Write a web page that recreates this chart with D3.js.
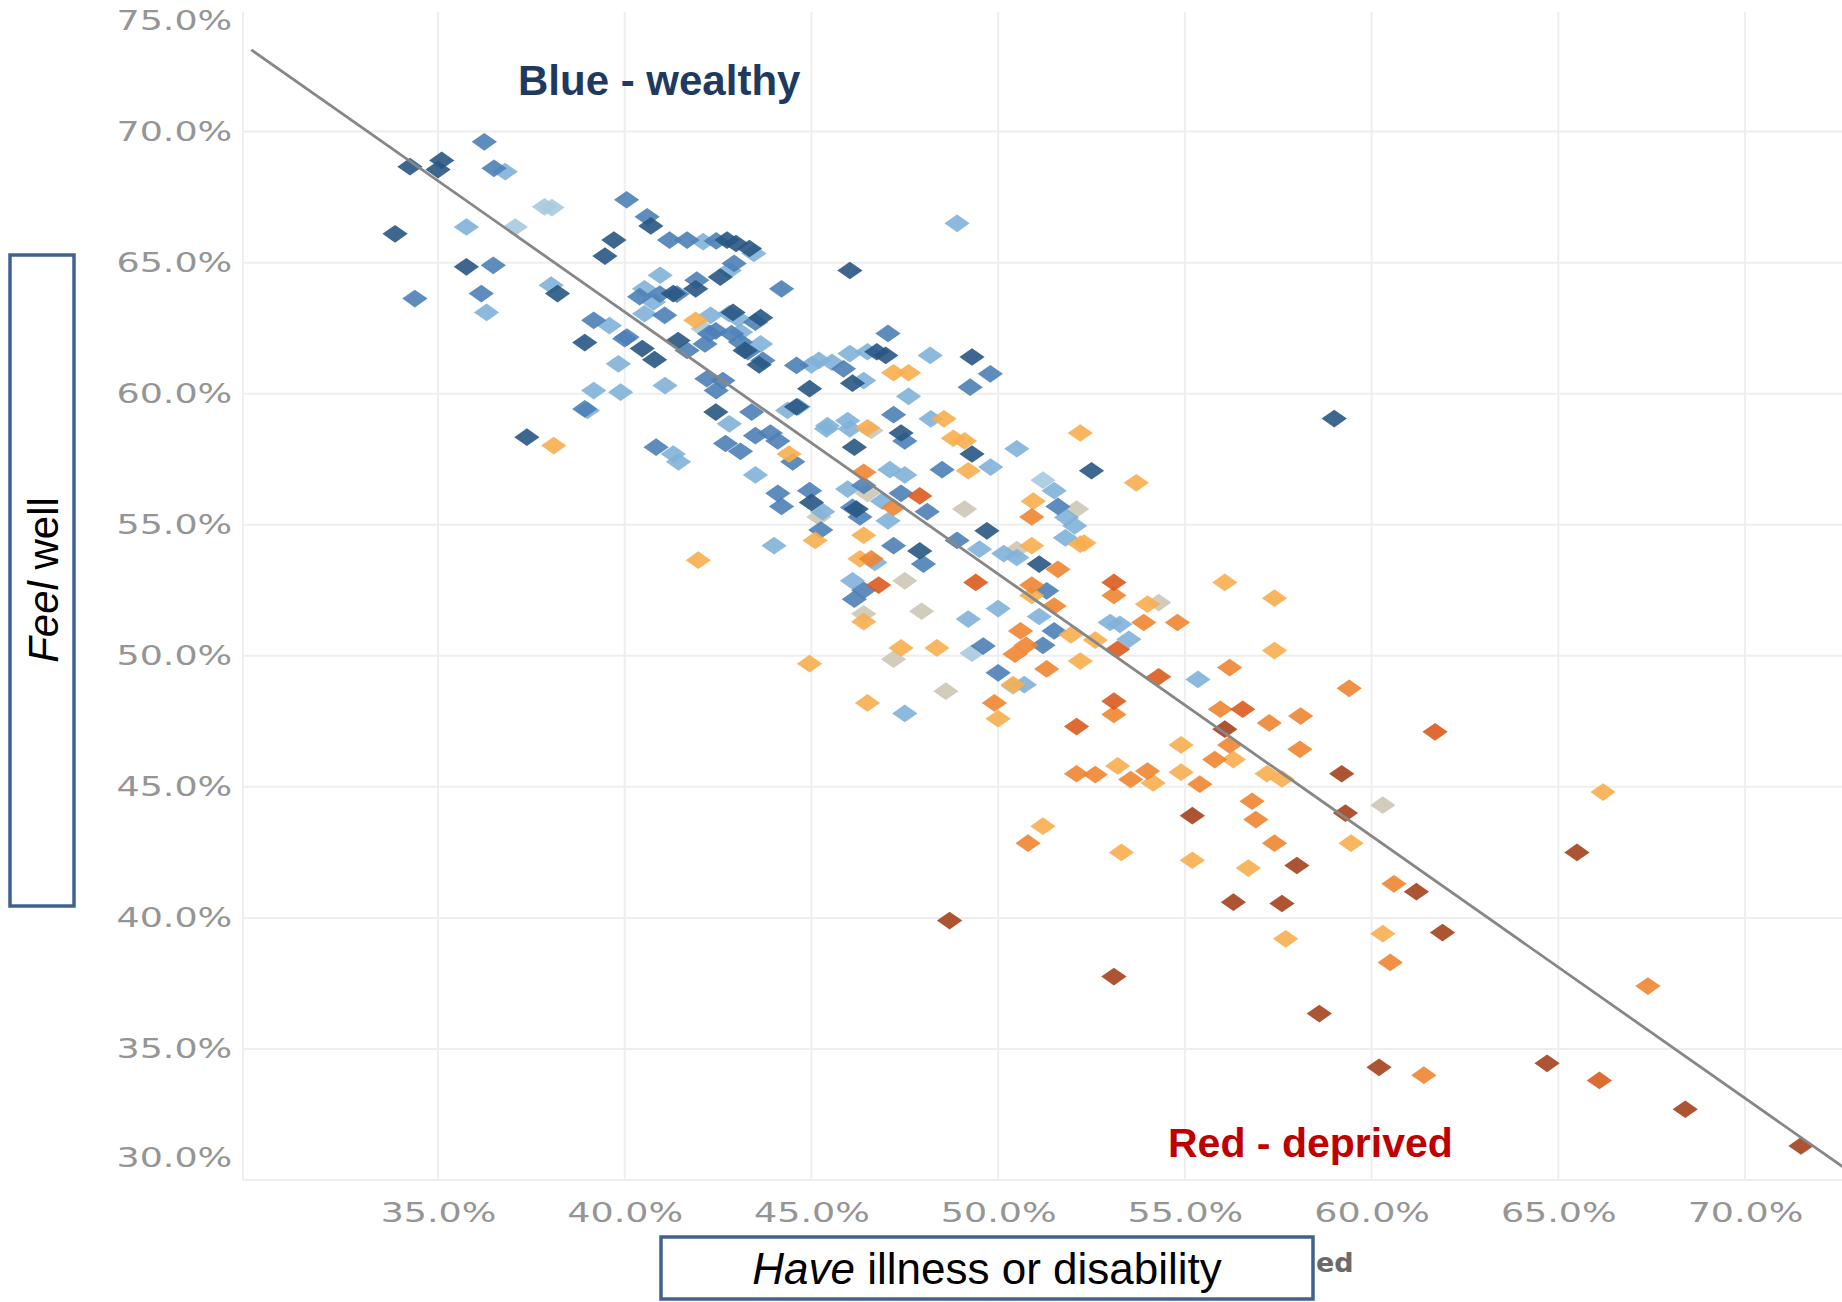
<!DOCTYPE html>
<html>
<head>
<meta charset="utf-8">
<script src="https://cdn.jsdelivr.net/npm/d3@7"></script>
<style>
    body { margin: 0; background: #ffffff; }
</style>
</head>
<body>
<div class="vis-chart"></div>
<script>
// tick values (percent)
const illnessTicks = [35, 40, 45, 50, 55, 60, 65, 70];
const feelWellTicks = [30, 35, 40, 45, 50, 55, 60, 65, 70, 75];

// trend line: feel well = intercept + slope * illness
const trendSlope = -1.0;
const trendIntercept = 103.12;
const trendRange = [30, 73.5];

// points as [illness %, feel well %], one array per colour band (wealthy -> deprived)
const navyPoints = [
    [33.85, 66.1], [34.25, 68.66], [35.0, 68.55], [35.1, 68.9], [35.76, 64.84], [37.38, 58.34], [38.2, 63.82],
    [38.93, 61.95], [39.47, 65.25], [39.71, 65.86], [40.7, 66.4], [40.8, 61.3], [40.47, 61.72], [41.3, 63.82],
    [41.43, 62.03], [41.9, 64.0], [42.56, 64.45], [42.74, 65.86], [42.98, 65.73], [43.34, 65.54], [43.22, 61.65],
    [43.64, 62.9], [42.9, 63.1], [43.6, 61.1], [42.44, 59.3], [44.6, 59.5], [44.95, 60.19], [45.0, 55.85],
    [46.15, 57.96], [46.03, 64.7], [46.99, 61.46], [46.75, 61.6], [47.4, 58.5], [47.9, 54.0], [49.3, 61.4],
    [49.3, 57.7], [49.7, 54.77], [51.1, 53.5], [52.5, 57.06], [59.0, 59.05], [46.2, 55.6], [46.1, 60.4]
];
const bluePoints = [
    [36.24, 69.61], [36.5, 68.6], [36.48, 64.9], [34.38, 63.63], [36.16, 63.82], [39.17, 62.8], [40.0, 62.1],
    [40.05, 67.4], [40.6, 66.75], [41.2, 65.86], [41.67, 65.86], [42.45, 65.83], [41.4, 63.8], [40.94, 63.8],
    [40.4, 63.7], [41.07, 62.99], [42.44, 62.4], [42.27, 62.29], [42.15, 61.9], [42.86, 62.29], [43.1, 61.97],
    [43.5, 62.73], [43.7, 61.27], [42.2, 60.57], [42.63, 60.5], [42.45, 60.12], [41.67, 61.65], [40.06, 62.16],
    [38.93, 59.42], [40.84, 57.96], [42.7, 58.1], [43.1, 57.8], [43.5, 58.4], [43.9, 58.5], [44.1, 58.2],
    [44.5, 57.4], [43.4, 59.3], [44.6, 61.08], [45.86, 60.95], [44.95, 56.3], [46.4, 56.5], [46.1, 55.66],
    [46.3, 55.3], [47.4, 56.2], [48.1, 55.5], [45.25, 54.8], [47.2, 54.2], [48.0, 53.5], [48.9, 54.4],
    [46.15, 52.16], [46.4, 52.5], [47.2, 59.2], [47.5, 58.2], [49.25, 60.25], [49.79, 60.76], [48.5, 57.1],
    [49.6, 50.37], [50.0, 49.35], [51.5, 50.95], [51.2, 50.4], [51.6, 55.7], [47.05, 62.3], [44.2, 64.0],
    [43.3, 61.6], [42.93, 64.97], [44.1, 56.2], [44.2, 55.7], [41.93, 64.33], [51.3, 52.48]
];
const lightBluePoints = [
    [35.76, 66.36], [36.8, 68.47], [36.3, 63.1], [38.03, 64.14], [39.59, 62.6], [40.53, 64.0], [40.77, 63.5],
    [40.53, 63.05], [40.95, 64.52], [39.0, 59.36], [39.83, 61.14], [41.08, 60.31], [39.17, 60.12], [39.89, 60.06],
    [41.44, 57.4], [42.1, 65.8], [42.8, 64.7], [43.46, 65.35], [42.3, 62.99], [42.8, 63.05], [43.04, 62.86],
    [43.64, 61.9], [42.8, 58.85], [43.5, 56.9], [44.36, 59.36], [45.2, 61.27], [45.55, 61.2], [46.03, 61.53],
    [46.5, 61.6], [48.18, 61.46], [45.43, 58.78], [45.97, 58.97], [46.03, 58.66], [45.4, 58.66], [48.2, 59.04],
    [44.0, 54.2], [45.97, 56.36], [46.9, 55.9], [47.05, 55.15], [47.1, 57.1], [47.5, 56.9], [46.7, 53.56],
    [46.1, 52.86], [49.5, 54.07], [50.15, 53.9], [50.5, 53.75], [51.8, 54.5], [51.5, 56.3], [52.05, 54.96],
    [50.5, 57.9], [49.8, 57.2], [49.2, 51.4], [50.0, 51.8], [53.0, 51.27], [53.26, 51.2], [53.5, 50.63],
    [55.35, 49.1], [47.5, 47.8], [50.7, 48.9], [48.9, 66.5], [44.65, 59.5], [45.3, 55.5], [41.3, 57.7],
    [45.0, 61.1], [51.1, 51.5], [43.1, 62.35], [47.6, 59.9], [46.4, 60.5], [51.83, 55.28]
];
const palePoints = [
    [37.07, 66.36], [37.85, 67.13], [38.05, 67.1], [51.2, 56.7], [49.3, 50.1], [42.1, 62.48], [50.4, 48.85]
];
const tanPoints = [
    [52.1, 55.6], [46.6, 58.6], [47.95, 51.7], [47.2, 49.87], [48.6, 48.65], [60.3, 44.3], [45.2, 55.3],
    [54.3, 52.03], [46.5, 56.2], [49.1, 55.6], [47.5, 52.86], [46.4, 51.6], [50.5, 54.05]
];
const lightOrangePoints = [
    [38.1, 58.02], [41.97, 53.65], [41.9, 62.8], [44.4, 57.7], [45.1, 54.4], [44.95, 49.7], [46.5, 48.2],
    [46.4, 54.6], [46.3, 53.7], [46.4, 51.3], [47.4, 50.3], [48.36, 50.3], [47.6, 60.8], [47.2, 60.8],
    [46.5, 58.7], [48.55, 59.04], [48.8, 58.3], [49.1, 58.2], [49.2, 57.06], [50.9, 54.2], [52.2, 54.26],
    [52.2, 58.5], [53.7, 56.6], [51.95, 50.8], [52.6, 50.6], [52.2, 49.8], [50.4, 48.9], [50.0, 47.6],
    [54.0, 51.97], [56.07, 52.8], [57.4, 52.2], [57.4, 50.2], [54.9, 46.6], [54.9, 45.56], [53.2, 45.8],
    [54.15, 45.15], [56.3, 46.04], [57.2, 45.5], [57.6, 45.3], [56.7, 41.9], [55.2, 42.2], [53.3, 42.5],
    [51.2, 43.5], [57.7, 39.2], [60.3, 39.4], [59.45, 42.85], [66.2, 44.8], [52.3, 54.3], [50.94, 55.9],
    [50.9, 52.3]
];
const orangePoints = [
    [46.4, 57.0], [46.6, 53.7], [47.2, 55.66], [50.9, 55.3], [51.6, 53.3], [50.75, 50.4], [50.45, 50.06],
    [50.6, 50.95], [49.9, 48.2], [51.3, 49.5], [53.1, 52.3], [53.9, 51.27], [54.8, 51.27], [53.1, 47.76],
    [52.1, 45.5], [52.6, 45.47], [53.55, 45.28], [54.0, 45.6], [55.4, 45.1], [55.8, 46.04], [56.2, 46.6],
    [55.95, 47.96], [57.26, 47.44], [58.1, 47.7], [56.2, 49.55], [59.4, 48.76], [56.8, 44.45], [56.9, 43.75],
    [57.4, 42.85], [50.8, 42.85], [60.6, 41.3], [60.5, 38.3], [61.4, 34.0], [67.4, 37.4], [51.5, 51.9],
    [50.9, 52.7], [58.08, 46.43]
];
const darkOrangePoints = [
    [47.9, 56.1], [46.8, 52.7], [49.4, 52.8], [53.1, 52.8], [54.3, 49.2], [53.2, 50.25], [53.1, 48.27],
    [52.1, 47.3], [56.55, 47.96], [61.7, 47.1], [66.1, 33.8]
];
const brownPoints = [
    [56.07, 47.2], [59.2, 45.5], [59.3, 44.0], [55.2, 43.9], [58.0, 42.0], [56.3, 40.6], [57.6, 40.55],
    [61.2, 41.0], [61.9, 39.44], [58.6, 36.35], [60.2, 34.3], [64.7, 34.45], [65.5, 42.5], [68.4, 32.7],
    [71.5, 31.3], [48.7, 39.9], [53.1, 37.76]
];

const bands = [
    { points: palePoints, color: '#a9cadf' },
    { points: tanPoints, color: '#cdc6b6' },
    { points: lightBluePoints, color: '#80b1d8' },
    { points: bluePoints, color: '#4b7fb6' },
    { points: navyPoints, color: '#285683' },
    { points: lightOrangePoints, color: '#f7ae50' },
    { points: orangePoints, color: '#ee8532' },
    { points: darkOrangePoints, color: '#da5a1e' },
    { points: brownPoints, color: '#a4411d' }
];

const width = 1842, height = 1302;
const pane = { left: 243, top: 12, bottom: 1180 };

const svg = d3.select('.vis-chart').append('svg')
    .attr('width', width)
    .attr('height', height)
    .style('display', 'block')
    .style('background-color', '#ffffff');

const xScale = d3.scaleLinear().domain([35, 70]).range([438, 1745]);
const yScale = d3.scaleLinear().domain([30, 70]).range([pane.bottom, 131.6]);

/* grid */
const grid = svg.append('g').attr('stroke', '#eeeeee').attr('stroke-width', 2);
grid.selectAll('.vgrid')
    .data(illnessTicks)
    .join('line')
    .attr('x1', d => xScale(d)).attr('x2', d => xScale(d))
    .attr('y1', pane.top).attr('y2', pane.bottom);
grid.selectAll('.hgrid')
    .data(feelWellTicks.filter(d => d < 75))
    .join('line')
    .attr('x1', pane.left).attr('x2', width)
    .attr('y1', d => yScale(d)).attr('y2', d => yScale(d));
grid.append('line')
    .attr('x1', pane.left).attr('x2', pane.left)
    .attr('y1', pane.top).attr('y2', pane.bottom);

/* axes */
const fmt = d => d.toFixed(1) + '%';

function styleTicks(g) {
    g.attr('font-size', null).attr('font-family', null);
    g.select('.domain').remove();
    g.selectAll('text')
        .style('font-family', '"DejaVu Sans", sans-serif')
        .style('font-size', '27px')
        .style('fill', '#959595')
        .attr('transform', 'scale(1.35,1)');
}

svg.append('g')
    .attr('transform', 'translate(0,' + pane.bottom + ')')
    .call(d3.axisBottom(xScale).tickValues(illnessTicks).tickSize(0).tickPadding(23).tickFormat(fmt))
    .call(styleTicks);

svg.append('g')
    .attr('transform', 'translate(' + pane.left + ',0)')
    .call(d3.axisLeft(yScale).tickValues(feelWellTicks).tickSize(0).tickPadding(8).tickFormat(fmt))
    .call(styleTicks)
    .call(g => g.selectAll('text').attr('y', d => d === 75 ? 20 : d === 30 ? -22 : 0));

/* points: wide diamonds */
const diamond = d3.symbol(d3.symbolSquare, 320)();
bands.forEach(band => {
    svg.append('g')
        .selectAll('path')
        .data(band.points)
        .join('path')
        .attr('d', diamond)
        .attr('transform', d => 'translate(' + xScale(d[0]) + ',' + yScale(d[1]) + ') scale(1,0.7) rotate(45)')
        .attr('fill', band.color)
        .attr('fill-opacity', 0.9);
});

/* trend line */
const trendLine = d3.line()
    .x(d => xScale(d))
    .y(d => yScale(trendIntercept + trendSlope * d));
svg.append('path')
    .attr('d', trendLine(trendRange))
    .attr('fill', 'none')
    .attr('stroke', '#878787')
    .attr('stroke-width', 2.8);

/* annotations */
svg.append('text')
    .attr('x', 518).attr('y', 95)
    .style('font-family', '"Liberation Sans", Arial, sans-serif')
    .style('font-weight', 'bold')
    .style('font-size', '42px')
    .style('fill', '#1f3a60')
    .text('Blue - wealthy');

svg.append('text')
    .attr('x', 1168).attr('y', 1157)
    .style('font-family', '"Liberation Sans", Arial, sans-serif')
    .style('font-weight', 'bold')
    .style('font-size', '41px')
    .style('fill', '#c00000')
    .text('Red - deprived');

svg.append('text')
    .attr('x', 1316).attr('y', 1272)
    .style('font-family', '"DejaVu Sans", sans-serif')
    .style('font-weight', 'bold')
    .style('font-size', '27px')
    .style('fill', '#6a6a6a')
    .text('ed');

// y title box
svg.append('rect')
    .attr('x', 10).attr('y', 255).attr('width', 64).attr('height', 651)
    .attr('fill', '#ffffff').attr('stroke', '#41618f').attr('stroke-width', 3.5);
const yTitle = svg.append('text')
    .attr('transform', 'translate(58,580) rotate(-90)')
    .attr('text-anchor', 'middle')
    .style('font-family', '"Liberation Sans", Arial, sans-serif')
    .style('font-size', '42px')
    .style('fill', '#000000');
yTitle.append('tspan').style('font-style', 'italic').text('Feel');
yTitle.append('tspan').text(' well');

// x title box
svg.append('rect')
    .attr('x', 661).attr('y', 1237).attr('width', 652).attr('height', 62)
    .attr('fill', '#ffffff').attr('stroke', '#41618f').attr('stroke-width', 3.5);
const xTitle = svg.append('text')
    .attr('x', 987).attr('y', 1284)
    .attr('text-anchor', 'middle')
    .style('font-family', '"Liberation Sans", Arial, sans-serif')
    .style('font-size', '44px')
    .style('fill', '#000000');
xTitle.append('tspan').style('font-style', 'italic').text('Have');
xTitle.append('tspan').text(' illness or disability');
</script>
</body>
</html>
